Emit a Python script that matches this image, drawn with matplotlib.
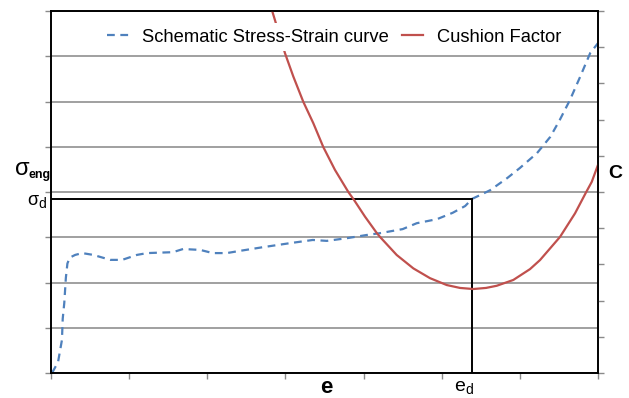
import matplotlib
matplotlib.use("Agg")
import matplotlib.pyplot as plt

plt.rcParams['font.family'] = ['Liberation Sans', 'DejaVu Sans']

# Schematic engineering stress-strain curve (left axis units)
strain = [0.013, 0.09, 0.14, 0.15, 0.17, 0.19, 0.21, 0.24, 0.31, 0.40, 0.54, 0.76,
          0.91, 1.10, 1.23, 1.56, 1.69, 1.91, 2.07, 2.25, 2.42, 2.71, 3.06, 3.35,
          3.53, 3.79, 4.04, 4.21, 4.50, 4.68, 4.94, 5.14, 5.30, 5.39, 5.49, 5.62,
          5.84, 6.00, 6.22, 6.39, 6.51, 6.64, 6.77, 6.90, 7.00]
stress = [0.00, 0.24, 0.73, 1.20, 1.55, 2.10, 2.42, 2.55, 2.61, 2.65, 2.61, 2.50,
          2.50, 2.61, 2.65, 2.67, 2.74, 2.72, 2.65, 2.65, 2.70, 2.78, 2.87, 2.94,
          2.92, 2.98, 3.05, 3.09, 3.18, 3.31, 3.40, 3.54, 3.69, 3.85, 3.93, 4.04,
          4.31, 4.53, 4.86, 5.22, 5.59, 6.03, 6.54, 7.07, 7.29]

# Cushion factor (right axis units)
cf_strain = [2.803, 2.832, 2.995, 3.101, 3.229, 3.357, 3.485, 3.634, 3.805, 3.878,
             4.018, 4.168, 4.210, 4.424, 4.637, 4.850, 5.064, 5.234, 5.404, 5.567,
             5.704, 5.916, 6.130, 6.258, 6.514, 6.706, 6.847, 6.920, 7.000]
cushion = [10.30, 9.99, 8.83, 8.19, 7.49, 6.90, 6.24, 5.61, 5.00, 4.78,
           4.32, 3.87, 3.76, 3.26, 2.89, 2.62, 2.43, 2.35, 2.32, 2.35,
           2.41, 2.57, 2.87, 3.12, 3.76, 4.41, 4.99, 5.28, 5.75]

# Design point
e_d = 5.39
sigma_d = 3.85

W, H = 629, 398
fig = plt.figure(figsize=(W / 100, H / 100), dpi=100)
ax = fig.add_axes([51 / W, 1 - 373 / H, 547 / W, 362 / H])
ax.set_xlim(0, 7)
ax.set_ylim(0, 8)
ax.set_xticks(range(8))
ax.set_yticks(range(9))
ax.set_xticklabels([])
ax.set_yticklabels([])
ax.grid(axis='y', color='#868686', lw=1.1)
ax.set_axisbelow(True)
ax.tick_params(direction='out', length=4, width=1, color='#8a8a8a')
for s in ax.spines.values():
    s.set_color('black')
    s.set_linewidth(1.2)

blue, = ax.plot(strain, stress, color='#4F81BD', lw=1.6,
                linestyle=(0, (3.5, 2.5)), label='Schematic Stress-Strain curve')
ax.plot([0, e_d], [sigma_d, sigma_d], color='black', lw=1.4)
ax.plot([e_d, e_d], [0, sigma_d], color='black', lw=1.4)

ax2 = ax.twinx()
ax2.set_ylim(0, 10)
ax2.set_yticks(range(11))
ax2.set_yticklabels([])
ax2.tick_params(direction='out', length=4, width=1, color='#8a8a8a')
for s in ax2.spines.values():
    s.set_color('black')
    s.set_linewidth(1.2)
red, = ax2.plot(cf_strain, cushion, color='#C0504D', lw=1.6, label='Cushion Factor')

leg = ax2.legend(handles=[blue, red], ncol=2, loc='center',
                 bbox_to_anchor=(0.518, 0.928), fontsize=13.2,
                 handlelength=1.15, handletextpad=0.75, columnspacing=0.7,
                 frameon=True, fancybox=False, borderpad=0.3)
leg.get_frame().set_edgecolor('none')
leg.get_frame().set_facecolor('white')
leg.get_frame().set_alpha(1)


def px(x, y):
    return x / W, 1 - y / H


# Axis annotations: symbol plus subscript
fig.text(*px(29.5, 175), 'σ', fontsize=17, ha='right', va='baseline')
fig.text(*px(28.5, 178), 'eng', fontsize=9, fontweight='bold', ha='left', va='baseline')
fig.text(*px(38, 205), 'σ', fontsize=13, ha='right', va='baseline')
fig.text(*px(38, 208), 'd', fontsize=10, ha='left', va='baseline')
fig.text(*px(326, 393), 'e', fontsize=16, fontweight='bold', ha='center', va='baseline')
fig.text(*px(465, 391), 'e', fontsize=14, ha='right', va='baseline')
fig.text(*px(465, 394), 'd', fontsize=10, ha='left', va='baseline')
fig.text(*px(615, 178), 'C', fontsize=14, fontweight='bold', ha='center', va='baseline')

fig.savefig('out.png', dpi=100)
